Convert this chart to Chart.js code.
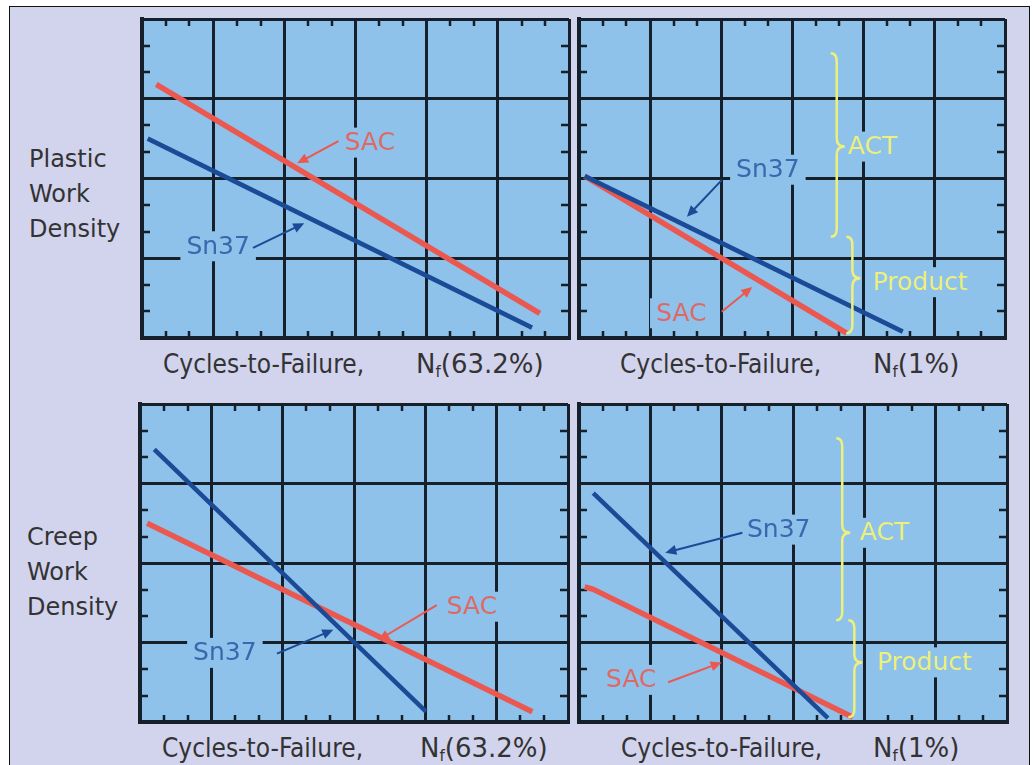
<!DOCTYPE html>
<html>
<head>
<meta charset="utf-8">
<script src="https://cdn.jsdelivr.net/npm/chart.js@4.4.1/dist/chart.umd.min.js"></script>
<style>
  html, body { margin: 0; padding: 0; background: #fff; width: 1034px; height: 765px; overflow: hidden; }
  #frame { position: absolute; left: 9px; top: 6px; width: 1019px; height: 800px; background: #d2d4ee; border: 1px solid #111; }
  canvas { position: absolute; }
  .lbl { position: absolute; font-family: "DejaVu Sans Condensed", "DejaVu Sans", sans-serif; font-stretch: condensed; font-size: 26px; line-height: 26px; color: #333; white-space: nowrap; }
  .nf { position: absolute; font-family: "DejaVu Sans", sans-serif; font-size: 26px; line-height: 26px; color: #333; white-space: nowrap; }
  .side { position: absolute; font-family: "DejaVu Sans", sans-serif; font-size: 24px; line-height: 35px; color: #333; }
  .sub { font-size: 15px; position: relative; top: 4px; }
</style>
</head>
<body>
<div id="frame"></div>

<canvas id="p1"></canvas>
<canvas id="p2"></canvas>
<canvas id="p3"></canvas>
<canvas id="p4"></canvas>

<div class="side" style="left:29px;top:142px">Plastic<br>Work<br>Density</div>
<div class="side" style="left:27px;top:520px">Creep<br>Work<br>Density</div>

<div class="lbl" style="left:163px;top:351px">Cycles-to-Failure,</div>
<div class="nf" style="left:416px;top:351px">N<span class="sub">f</span>(63.2%)</div>
<div class="lbl" style="left:620px;top:351px">Cycles-to-Failure,</div>
<div class="nf" style="left:873px;top:351px">N<span class="sub">f</span>(1%)</div>
<div class="lbl" style="left:162px;top:735px">Cycles-to-Failure,</div>
<div class="nf" style="left:420px;top:735px">N<span class="sub">f</span>(63.2%)</div>
<div class="lbl" style="left:621px;top:735px">Cycles-to-Failure,</div>
<div class="nf" style="left:873px;top:735px">N<span class="sub">f</span>(1%)</div>

<script>
// axis ranges (grid units, no tick labels shown)
const xRange = [0, 6];
const yRange = [0, 4];

// Plastic work density vs Nf(63.2%)
const plasticMeanSacX = [0.20, 5.59];
const plasticMeanSacY = [3.18, 0.31];
const plasticMeanSn37X = [0.08, 5.48];
const plasticMeanSn37Y = [2.50, 0.13];

// Plastic work density vs Nf(1%)
const plasticLowSacX = [0.08, 3.77];
const plasticLowSacY = [2.03, 0.06];
const plasticLowSn37X = [0.08, 4.56];
const plasticLowSn37Y = [2.03, 0.08];

// Creep work density vs Nf(63.2%)
const creepMeanSacX = [0.10, 5.50];
const creepMeanSacY = [2.50, 0.13];
const creepMeanSn37X = [0.20, 4.01];
const creepMeanSn37Y = [3.43, 0.13];

// Creep work density vs Nf(1%)
const creepLowSacX = [0.08, 0.20, 3.84];
const creepLowSacY = [1.70, 1.67, 0.06];
const creepLowSn37X = [0.20, 3.49];
const creepLowSn37Y = [2.88, 0.05];

const PANEL_BG = "#8ec2ea";
const GRID = "#15202b";
const RED = "#eb5850";
const BLUE = "#1b4a96";
const RED_TXT = "#e06864";
const BLUE_TXT = "#3a67ad";
const YELLOW = "#edf07a";
const PAD = 6;

function pts(xs, ys) {
  return xs.map((x, i) => ({ x: x, y: ys[i] }));
}

function arrow(ctx, x1, y1, x2, y2, color) {
  const ang = Math.atan2(y2 - y1, x2 - x1);
  ctx.save();
  ctx.strokeStyle = color;
  ctx.fillStyle = color;
  ctx.lineWidth = 2;
  ctx.beginPath();
  ctx.moveTo(x1, y1);
  ctx.lineTo(x2 - 8 * Math.cos(ang), y2 - 8 * Math.sin(ang));
  ctx.stroke();
  ctx.beginPath();
  ctx.moveTo(x2, y2);
  ctx.lineTo(x2 - 11 * Math.cos(ang) + 5 * Math.sin(ang), y2 - 11 * Math.sin(ang) - 5 * Math.cos(ang));
  ctx.lineTo(x2 - 11 * Math.cos(ang) - 5 * Math.sin(ang), y2 - 11 * Math.sin(ang) + 5 * Math.cos(ang));
  ctx.closePath();
  ctx.fill();
  ctx.restore();
}

function brace(ctx, x, top, tip, bottom) {
  ctx.save();
  ctx.strokeStyle = YELLOW;
  ctx.lineWidth = 2.5;
  ctx.beginPath();
  ctx.moveTo(x - 6, top);
  ctx.quadraticCurveTo(x, top, x, top + 8);
  ctx.lineTo(x, tip - 8);
  ctx.quadraticCurveTo(x, tip, x + 8, tip);
  ctx.quadraticCurveTo(x, tip, x, tip + 8);
  ctx.lineTo(x, bottom - 8);
  ctx.quadraticCurveTo(x, bottom, x - 6, bottom);
  ctx.stroke();
  ctx.restore();
}

function makePanel(id, left, top, w, h, series, notes) {
  const canvas = document.getElementById(id);
  canvas.width = w + 2 * PAD;
  canvas.height = h + 2 * PAD;
  canvas.style.left = (left - PAD) + "px";
  canvas.style.top = (top - PAD) + "px";

  const plugin = {
    id: "panel_" + id,
    beforeDraw(chart) {
      const a = chart.chartArea, ctx = chart.ctx;
      ctx.save();
      ctx.fillStyle = PANEL_BG;
      ctx.fillRect(a.left, a.top, a.right - a.left, a.bottom - a.top);
      ctx.restore();
    },
    beforeDatasetsDraw(chart) {
      const a = chart.chartArea, ctx = chart.ctx;
      const xs = chart.scales.x, ys = chart.scales.y;
      // minor ticks on all four edges
      ctx.save();
      ctx.strokeStyle = GRID;
      ctx.lineWidth = 2.5;
      ctx.beginPath();
      for (let i = xRange[0]; i < xRange[1]; i++) {
        [i + 1 / 3, i + 2 / 3].forEach(v => {
          const px = Math.round(xs.getPixelForValue(v));
          ctx.moveTo(px, a.top); ctx.lineTo(px, a.top + 7);
          ctx.moveTo(px, a.bottom); ctx.lineTo(px, a.bottom - 7);
        });
      }
      for (let j = yRange[0]; j < yRange[1]; j++) {
        [j + 1 / 3, j + 2 / 3].forEach(v => {
          const py = Math.round(ys.getPixelForValue(v));
          ctx.moveTo(a.left, py); ctx.lineTo(a.left + 8, py);
          ctx.moveTo(a.right, py); ctx.lineTo(a.right - 8, py);
        });
      }
      ctx.stroke();

      // text labels sit on a box of panel colour that hides the grid
      ctx.font = "25px 'DejaVu Sans', sans-serif";
      ctx.textBaseline = "middle";
      notes.texts.forEach(t => {
        const px = xs.getPixelForValue(t.x), py = ys.getPixelForValue(t.y);
        const tw = ctx.measureText(t.text).width;
        const x0 = t.align === "left" ? px : px - tw / 2;
        ctx.fillStyle = PANEL_BG;
        ctx.fillRect(x0 - 6, py - 15, tw + 12, 30);
        ctx.fillStyle = t.color;
        ctx.textAlign = "left";
        ctx.fillText(t.text, x0, py + 1);
      });
      ctx.restore();
    },
    afterDatasetsDraw(chart) {
      const ctx = chart.ctx;
      const xs = chart.scales.x, ys = chart.scales.y;
      notes.arrows.forEach(r => {
        arrow(ctx, xs.getPixelForValue(r[0]), ys.getPixelForValue(r[1]),
          xs.getPixelForValue(r[2]), ys.getPixelForValue(r[3]), r[4]);
      });
      notes.braces.forEach(b => {
        brace(ctx, xs.getPixelForValue(b.x), ys.getPixelForValue(b.top),
          ys.getPixelForValue(b.tip), ys.getPixelForValue(b.bottom));
      });
    }
  };

  return new Chart(canvas, {
    type: "scatter",
    data: {
      datasets: series.map(s => ({
        label: s.label,
        data: s.data,
        showLine: true,
        borderColor: s.color,
        borderWidth: s.width,
        pointRadius: 0,
        fill: false
      }))
    },
    options: {
      responsive: false,
      animation: false,
      layout: { padding: PAD },
      plugins: { legend: { display: false }, tooltip: { enabled: false } },
      scales: {
        x: {
          type: "linear", min: xRange[0], max: xRange[1],
          ticks: { stepSize: 1, display: false },
          grid: { color: GRID, lineWidth: 3, drawTicks: false },
          border: { color: GRID, width: 4 }
        },
        y: {
          type: "linear", min: yRange[0], max: yRange[1],
          ticks: { stepSize: 1, display: false },
          grid: { color: GRID, lineWidth: 3, drawTicks: false },
          border: { color: GRID, width: 4 }
        }
      }
    },
    plugins: [plugin]
  });
}

makePanel("p1", 142, 19, 427, 319, [
  { label: "Sn37", data: pts(plasticMeanSn37X, plasticMeanSn37Y), color: BLUE, width: 4.5 },
  { label: "SAC", data: pts(plasticMeanSacX, plasticMeanSacY), color: RED, width: 5.5 }
], {
  texts: [
    { text: "SAC", x: 3.20, y: 2.45, color: RED_TXT },
    { text: "Sn37", x: 1.07, y: 1.15, color: BLUE_TXT }
  ],
  arrows: [
    [2.76, 2.47, 2.18, 2.19, RED],
    [1.56, 1.13, 2.28, 1.44, BLUE]
  ],
  braces: []
});

makePanel("p2", 579, 19, 426, 319, [
  { label: "Sn37", data: pts(plasticLowSn37X, plasticLowSn37Y), color: BLUE, width: 4.5 },
  { label: "SAC", data: pts(plasticLowSacX, plasticLowSacY), color: RED, width: 5.5 }
], {
  texts: [
    { text: "Sn37", x: 2.66, y: 2.11, color: BLUE_TXT },
    { text: "SAC", x: 1.44, y: 0.31, color: RED_TXT },
    { text: "ACT", x: 3.79, y: 2.40, color: YELLOW, align: "left" },
    { text: "Product", x: 4.14, y: 0.70, color: YELLOW, align: "left" }
  ],
  arrows: [
    [2.01, 1.98, 1.52, 1.52, BLUE],
    [2.01, 0.33, 2.44, 0.64, RED]
  ],
  braces: [
    { x: 3.63, top: 3.57, tip: 2.40, bottom: 1.27 },
    { x: 3.85, top: 1.27, tip: 0.75, bottom: 0.06 }
  ]
});

makePanel("p3", 140, 404, 428, 318, [
  { label: "Sn37", data: pts(creepMeanSn37X, creepMeanSn37Y), color: BLUE, width: 4.5 },
  { label: "SAC", data: pts(creepMeanSacX, creepMeanSacY), color: RED, width: 5.5 }
], {
  texts: [
    { text: "Sn37", x: 1.19, y: 0.87, color: BLUE_TXT },
    { text: "SAC", x: 4.65, y: 1.45, color: RED_TXT }
  ],
  arrows: [
    [1.92, 0.86, 2.71, 1.16, BLUE],
    [4.16, 1.47, 3.34, 1.03, RED]
  ],
  braces: []
});

makePanel("p4", 579, 404, 428, 318, [
  { label: "Sn37", data: pts(creepLowSn37X, creepLowSn37Y), color: BLUE, width: 4.5 },
  { label: "SAC", data: pts(creepLowSacX, creepLowSacY), color: RED, width: 5.5 }
], {
  texts: [
    { text: "Sn37", x: 2.80, y: 2.42, color: BLUE_TXT },
    { text: "SAC", x: 0.73, y: 0.53, color: RED_TXT },
    { text: "ACT", x: 3.94, y: 2.38, color: YELLOW, align: "left" },
    { text: "Product", x: 4.18, y: 0.75, color: YELLOW, align: "left" }
  ],
  arrows: [
    [2.29, 2.38, 1.21, 2.13, BLUE],
    [1.25, 0.50, 2.00, 0.75, RED]
  ],
  braces: [
    { x: 3.69, top: 3.57, tip: 2.38, bottom: 1.28 },
    { x: 3.86, top: 1.28, tip: 0.75, bottom: 0.06 }
  ]
});
</script>
</body>
</html>
